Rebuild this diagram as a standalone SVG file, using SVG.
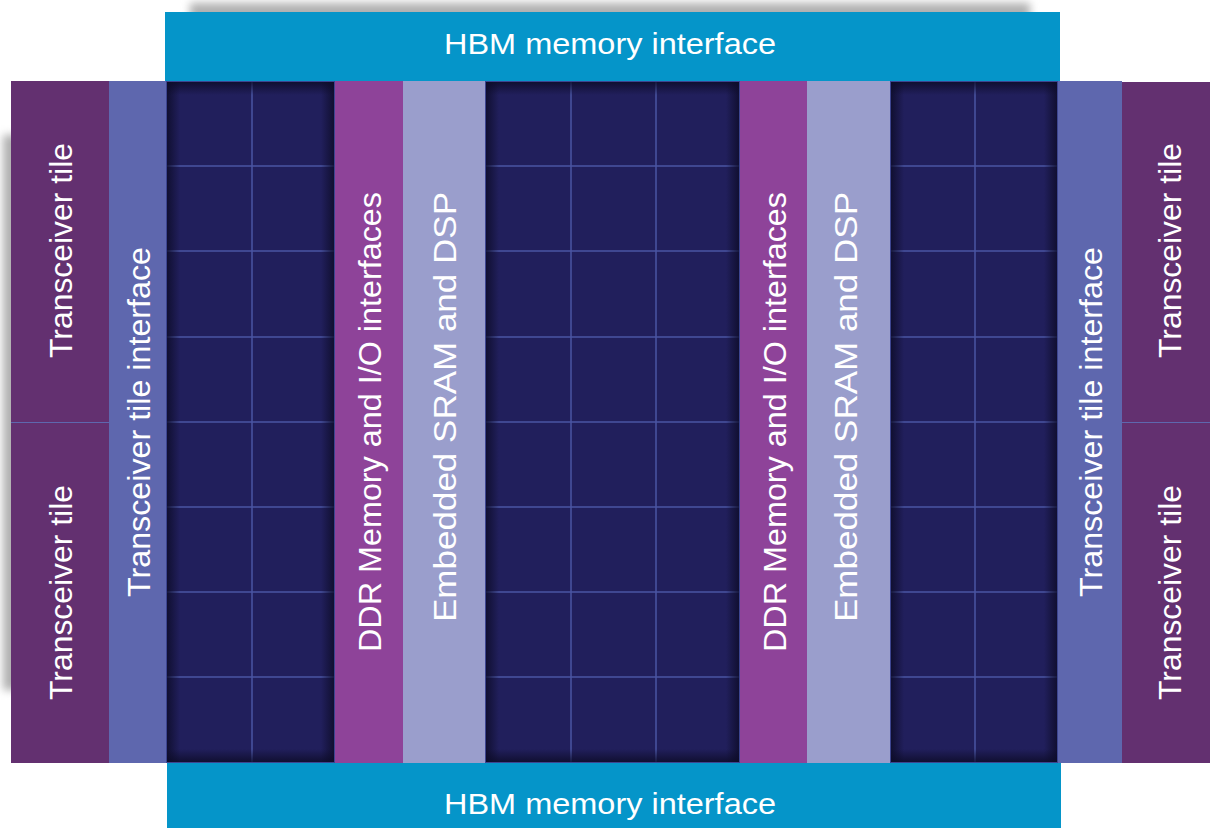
<svg xmlns="http://www.w3.org/2000/svg" width="1210" height="828" viewBox="0 0 1210 828">
<style>
.lbl{font-family:"Liberation Sans",Arial,sans-serif;fill:#ffffff;text-anchor:middle}
.hbm{fill:#0595c9}
.xcvr{fill:#633070}
.intf{fill:#5e67ae}
.ddr{fill:#8e4399}
.sram{fill:#9a9ecc}
.fab{fill:#211f5c}
.grid{stroke:#4a55a3;stroke-width:1.5;fill:none}
.sep{stroke:#5e67ae;stroke-width:1}
</style>
<defs>
<filter id="blur" x="-20%" y="-80%" width="140%" height="260%"><feGaussianBlur stdDeviation="4"/></filter>
<linearGradient id="shL" x1="0" y1="0" x2="1" y2="0"><stop offset="0" stop-color="#0c0b26" stop-opacity="0.85"/><stop offset="1" stop-color="#0c0b26" stop-opacity="0"/></linearGradient>
<linearGradient id="shR" x1="1" y1="0" x2="0" y2="0"><stop offset="0" stop-color="#0c0b26" stop-opacity="0.85"/><stop offset="1" stop-color="#0c0b26" stop-opacity="0"/></linearGradient>
<linearGradient id="shT" x1="0" y1="0" x2="0" y2="1"><stop offset="0" stop-color="#0c0b26" stop-opacity="0.85"/><stop offset="1" stop-color="#0c0b26" stop-opacity="0"/></linearGradient>
<linearGradient id="shB" x1="0" y1="1" x2="0" y2="0"><stop offset="0" stop-color="#0c0b26" stop-opacity="0.85"/><stop offset="1" stop-color="#0c0b26" stop-opacity="0"/></linearGradient>
</defs>
<rect width="1210" height="828" fill="#ffffff"/>
<g id="shadows">
<rect x="190" y="3" width="840" height="22" fill="#b0b0b0" filter="url(#blur)"/>
<rect x="3" y="135" width="22" height="555" fill="#b0b0b0" filter="url(#blur)"/>
</g>

<g id="hbm-top"><rect class="hbm" x="165" y="12" width="895" height="69"/><text class="lbl" x="610" y="54" font-size="29" textLength="332" lengthAdjust="spacingAndGlyphs">HBM memory interface</text></g>
<g id="hbm-bottom"><rect class="hbm" x="167" y="763" width="894" height="65"/><text class="lbl" x="610" y="814" font-size="29" textLength="332" lengthAdjust="spacingAndGlyphs">HBM memory interface</text></g>

<g id="xcvr-left-top"><rect class="xcvr" x="11" y="81" width="98" height="341"/><text class="lbl" font-size="31" textLength="215" lengthAdjust="spacingAndGlyphs" transform="translate(61,250.5) rotate(-90)" x="0" y="11">Transceiver tile</text></g>
<g id="xcvr-left-bottom"><rect class="xcvr" x="11" y="422" width="98" height="341"/><text class="lbl" font-size="31" textLength="215" lengthAdjust="spacingAndGlyphs" transform="translate(61,592.5) rotate(-90)" x="0" y="11">Transceiver tile</text></g>
<line class="sep" x1="11" y1="422.5" x2="109" y2="422.5"/>
<g id="intf-left"><rect class="intf" x="109" y="81" width="57" height="682"/><text class="lbl" font-size="31" textLength="350" lengthAdjust="spacingAndGlyphs" transform="translate(138.5,422) rotate(-90)" x="0" y="11">Transceiver tile interface</text></g>

<g id="fabric-left">
<rect class="fab" x="166" y="81" width="169" height="682"/>
<path class="grid" d="M252,81V763M166,166H335M166,251H335M166,337H335M166,422H335M166,507H335M166,592H335M166,677H335"/>
<rect x="166" y="81" width="14" height="682" fill="url(#shL)"/><rect x="321" y="81" width="14" height="682" fill="url(#shR)"/>
<rect x="166" y="81" width="169" height="14" fill="url(#shT)"/><rect x="166" y="749" width="169" height="14" fill="url(#shB)"/>
<rect x="166.5" y="81.5" width="168" height="681" fill="none" stroke="#3d4590" stroke-width="1"/>
</g>

<g id="ddr-left"><rect class="ddr" x="335" y="81" width="68" height="682"/><text class="lbl" font-size="31" textLength="460" lengthAdjust="spacingAndGlyphs" transform="translate(369.5,422) rotate(-90)" x="0" y="11">DDR Memory and I/O interfaces</text></g>
<g id="sram-left"><rect class="sram" x="403" y="81" width="82" height="682"/><text class="lbl" font-size="31" textLength="430" lengthAdjust="spacingAndGlyphs" transform="translate(444.5,407) rotate(-90)" x="0" y="11">Embedded SRAM and DSP</text></g>

<g id="fabric-center">
<rect class="fab" x="485" y="81" width="255" height="682"/>
<path class="grid" d="M571,81V763M656,81V763M485,166H740M485,251H740M485,337H740M485,422H740M485,507H740M485,592H740M485,677H740"/>
<rect x="485" y="81" width="14" height="682" fill="url(#shL)"/><rect x="726" y="81" width="14" height="682" fill="url(#shR)"/>
<rect x="485" y="81" width="255" height="14" fill="url(#shT)"/><rect x="485" y="749" width="255" height="14" fill="url(#shB)"/>
<rect x="485.5" y="81.5" width="254" height="681" fill="none" stroke="#3d4590" stroke-width="1"/>
</g>

<g id="ddr-right"><rect class="ddr" x="740" y="81" width="67" height="682"/><text class="lbl" font-size="31" textLength="460" lengthAdjust="spacingAndGlyphs" transform="translate(774.5,422) rotate(-90)" x="0" y="11">DDR Memory and I/O interfaces</text></g>
<g id="sram-right"><rect class="sram" x="807" y="81" width="83" height="682"/><text class="lbl" font-size="31" textLength="430" lengthAdjust="spacingAndGlyphs" transform="translate(845.5,407) rotate(-90)" x="0" y="11">Embedded SRAM and DSP</text></g>

<g id="fabric-right">
<rect class="fab" x="890" y="81" width="168" height="682"/>
<path class="grid" d="M975,81V763M890,166H1058M890,251H1058M890,337H1058M890,422H1058M890,507H1058M890,592H1058M890,677H1058"/>
<rect x="890" y="81" width="14" height="682" fill="url(#shL)"/><rect x="1044" y="81" width="14" height="682" fill="url(#shR)"/>
<rect x="890" y="81" width="168" height="14" fill="url(#shT)"/><rect x="890" y="749" width="168" height="14" fill="url(#shB)"/>
<rect x="890.5" y="81.5" width="167" height="681" fill="none" stroke="#3d4590" stroke-width="1"/>
</g>

<g id="intf-right"><rect class="intf" x="1058" y="81" width="64" height="682"/><text class="lbl" font-size="31" textLength="350" lengthAdjust="spacingAndGlyphs" transform="translate(1091,422) rotate(-90)" x="0" y="11">Transceiver tile interface</text></g>
<g id="xcvr-right-top"><rect class="xcvr" x="1122" y="82" width="88" height="340"/><text class="lbl" font-size="31" textLength="215" lengthAdjust="spacingAndGlyphs" transform="translate(1170,250.5) rotate(-90)" x="0" y="11">Transceiver tile</text></g>
<g id="xcvr-right-bottom"><rect class="xcvr" x="1122" y="422" width="88" height="341"/><text class="lbl" font-size="31" textLength="215" lengthAdjust="spacingAndGlyphs" transform="translate(1170,592.5) rotate(-90)" x="0" y="11">Transceiver tile</text></g>
<line class="sep" x1="1122" y1="422.5" x2="1210" y2="422.5"/>
<g id="connectors"/>
</svg>
